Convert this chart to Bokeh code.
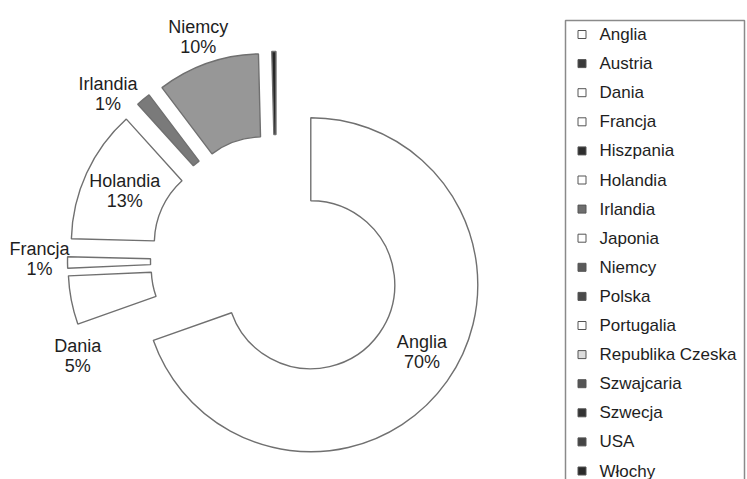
import math
from bokeh.plotting import figure
from bokeh.models import Range1d, ColumnDataSource
from bokeh.core.properties import value
from bokeh.embed import file_html
from bokeh.resources import INLINE

# ---- data ----
countries = ["Anglia", "Austria", "Dania", "Francja", "Hiszpania", "Holandia",
             "Irlandia", "Japonia", "Niemcy", "Polska", "Portugalia",
             "Republika Czeska", "Szwajcaria", "Szwecja", "USA", "Włochy"]
shares = [69.6, 0.0, 4.7, 1.1, 0.0, 12.9, 1.4, 0.0, 9.9, 0.0, 0.0,
          0.0, 0.0, 0.0, 0.0, 0.4]

# ---- style ----
slice_colors = ["#ffffff", "#3a3a3a", "#ffffff", "#ffffff", "#2e2e2e", "#ffffff",
                "#7a7a7a", "#ffffff", "#979797", "#4a4a4a", "#ffffff",
                "#dcdcdc", "#555555", "#333333", "#444444", "#262626"]
marker_colors = ["#ffffff", "#3a3a3a", "#ffffff", "#ffffff", "#2e2e2e", "#ffffff",
                 "#6e6e6e", "#ffffff", "#5a5a5a", "#4a4a4a", "#ffffff",
                 "#dcdcdc", "#555555", "#333333", "#444444", "#2a2a2a"]
# label placement (radius from slice centre, angular nudge in degrees)
label_r = {"Anglia": 130, "Holandia": 125, "Niemcy": 195, "Irlandia": 195,
           "Francja": 195, "Dania": 180}
label_da = {"Anglia": -4, "Holandia": 0, "Niemcy": 0, "Irlandia": -7,
            "Francja": 1, "Dania": -18}

W, H = 747, 479
CX, CY = 276, 219
R_IN, R_OUT = 84, 167
EXPLODE = 42
EDGE = "#707070"
FONT = "Liberation Sans"

p = figure(width=W, height=H, x_range=Range1d(0, W), y_range=Range1d(0, H),
           output_backend="svg", toolbar_location=None, min_border=0,
           x_axis_type=None, y_axis_type=None)
p.outline_line_color = None
p.background_fill_color = "white"

total = sum(shares)
cum = 0.0
wx, wy, ws, we, wc = [], [], [], [], []
lx, ly, lname, lpct = [], [], [], []
for name, v, col in zip(countries, shares, slice_colors):
    if v <= 0:
        continue
    phi1 = cum / total * 360.0
    phi2 = (cum + v) / total * 360.0
    cum += v
    bis = (phi1 + phi2) / 2.0
    cx = CX + EXPLODE * math.sin(math.radians(bis))
    cy = CY + EXPLODE * math.cos(math.radians(bis))
    wx.append(cx); wy.append(cy)
    ws.append(math.radians(90 - phi2)); we.append(math.radians(90 - phi1))
    wc.append(col)
    pct = round(v / total * 100)
    if pct >= 1 and name in label_r:
        a = math.radians(bis + label_da[name])
        r = label_r[name]
        lx.append(cx + r * math.sin(a)); ly.append(cy + r * math.cos(a))
        lname.append(name); lpct.append(f"{pct}%")

src = ColumnDataSource(dict(x=wx, y=wy, s=ws, e=we, c=wc))
p.annular_wedge(x="x", y="y", inner_radius=R_IN, outer_radius=R_OUT,
                start_angle="s", end_angle="e", source=src,
                fill_color="c", line_color=EDGE, line_width=1.4)

lsrc = ColumnDataSource(dict(x=lx, y1=[y + 10 for y in ly], y2=[y - 10 for y in ly],
                             n=lname, t=lpct))
for ycol, tcol in (("y1", "n"), ("y2", "t")):
    p.text(x="x", y=ycol, text=tcol, source=lsrc, text_align="center",
           text_baseline="middle", text_font=value(FONT), text_font_size="18px",
           text_color="#1e1e1e")

# ---- legend ----
p.quad(left=[565], right=[744], top=[H - 20], bottom=[-10], fill_color=None,
       line_color="#8a8a8a", line_width=1.5)
rows_y = [H - (34 + 29.1 * i) for i in range(len(countries))]
msrc = ColumnDataSource(dict(x=[581.5] * len(countries), y=rows_y,
                             c=marker_colors, n=countries, tx=[599] * len(countries)))
p.scatter(x="x", y="y", source=msrc, marker="square", size=8,
          fill_color="c", line_color="#555555", line_width=1)
p.text(x="tx", y="y", text="n", source=msrc, text_align="left",
       text_baseline="middle", text_font=value(FONT), text_font_size="17px",
       text_color="#1e1e1e")

open("out.html", "w").write(file_html(p, INLINE))
